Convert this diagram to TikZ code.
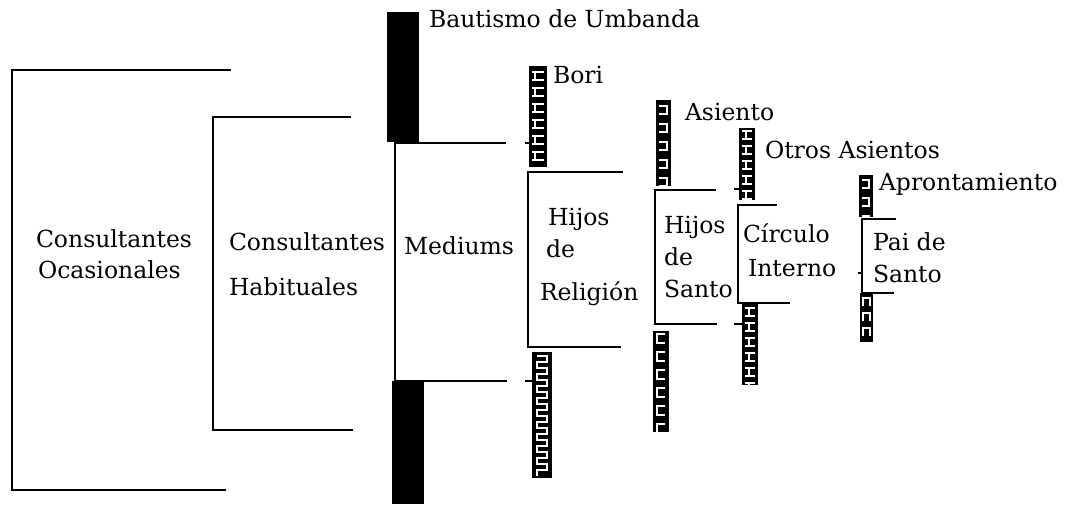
\documentclass[tikz,border=0pt]{standalone}
\usepackage{fontspec}
\setmainfont{DejaVu Serif}
\begin{document}
\begin{tikzpicture}[x=1pt,y=-1pt,line width=2pt,
        bracket/.style={line width=2pt,line cap=rect},
        tick/.style={line width=1.5pt},
        glyph/.style={white,line width=1.6pt}]
    \useasboundingbox (0,0) rectangle (1066,504);

    % labels
    \begin{scope}[every node/.style={anchor=base west,inner sep=0pt,
                    font=\fontsize{23.5}{28}\selectfont}]
        \node (co1) at (35,247) {Consultantes};
        \node (oca) at (37,278) {Ocasionales};
        \node (co2) at (228,250) {Consultantes};
        \node (hab) at (228,295) {Habituales};
        \node (med) at (403,254) {Mediums};
        \node (bau) at (428,27) {Bautismo de Umbanda};
        \node (hr1) at (547,225) {Hijos};
        \node (hr2) at (545,257) {de};
        \node (hr3) at (539,300) {Religión};
        \node (bor) at (552,83) {Bori};
        \node (hs1) at (663,233) {Hijos};
        \node (hs2) at (663,265) {de};
        \node (hs3) at (663,297) {Santo};
        \node (asi) at (684,120) {Asiento};
        \node (ci1) at (742,242) {Círculo};
        \node (ci2) at (747,276) {Interno};
        \node (otr) at (764,158) {Otros Asientos};
        \node (pa1) at (872,250) {Pai de};
        \node (pa2) at (872,282) {Santo};
        \node (apr) at (878,190) {Aprontamiento};
    \end{scope}

    % brackets
    \draw[bracket] (230,70) -- (12,70) -- (12,490) -- (225,490);
    \draw[bracket] (350,117) -- (213,117) -- (213,430) -- (352,430);
    \draw[bracket] (505,143) -- (395,143) -- (395,381) -- (506,381);
    \draw[bracket] (622,172) -- (528,172) -- (528,347) -- (620,347);
    \draw[bracket] (715,190) -- (655,190) -- (655,324) -- (716,324);
    \draw[bracket] (776,205) -- (738,205) -- (738,303) -- (789,303);
    \draw[bracket] (895,219) -- (862,219) -- (862,293) -- (893,293);

    % short ticks
    \draw[tick] (525,143) -- (530,143);
    \draw[tick] (525,381) -- (532,381);
    \draw[tick] (734,189) -- (739,189);
    \draw[tick] (734,324) -- (742,324);
    \draw[tick] (858,273) -- (862,273);

    % solid bars
    \fill (387,12) rectangle (419,142);
    \fill (392,381) rectangle (424,504);

    % Bori
    \begin{scope}
        \clip (529,66) rectangle (547,167);
        \fill (529,66) rectangle (547,167);
        \foreach \y in {72,88,...,168}
            \draw[glyph] (532,\y) -- (544,\y) (535,\y) -- (535,\y+8) (532,\y+8) -- (544,\y+8);
    \end{scope}
    % Religion bottom
    \begin{scope}
        \clip (532,352) rectangle (552,478);
        \fill (532,352) rectangle (552,478);
        \draw[glyph] (537,356) \foreach \y in {356,368,...,464}
            { -- (547,\y) -- (547,\y+6) -- (537,\y+6) -- (537,\y+12) };
    \end{scope}
    % Asiento
    \begin{scope}
        \clip (656,100) rectangle (671,186);
        \fill (656,100) rectangle (671,186);
        \foreach \y in {106,124,...,184}
            \draw[glyph] (659,\y) -- (667,\y) -- (667,\y+8) -- (659,\y+8);
    \end{scope}
    \begin{scope}
        \clip (653,331) rectangle (669,432);
        \fill (653,331) rectangle (669,432);
        \foreach \y in {334,352,...,428}
            \draw[glyph] (665,\y) -- (657,\y) -- (657,\y+9) -- (665,\y+9);
    \end{scope}
    % Otros Asientos
    \begin{scope}
        \clip (739,128) rectangle (755,200);
        \fill (739,128) rectangle (755,200);
        \foreach \y in {131,146,...,199}
            \draw[glyph] (742,\y) -- (752,\y) (746,\y) -- (746,\y+8) (742,\y+8) -- (752,\y+8);
    \end{scope}
    \begin{scope}
        \clip (742,303) rectangle (758,385);
        \fill (742,303) rectangle (758,385);
        \foreach \y in {308,323,...,384}
            \draw[glyph] (745,\y) -- (755,\y) (749,\y) -- (749,\y+8) (745,\y+8) -- (755,\y+8);
    \end{scope}
    % Aprontamiento
    \begin{scope}
        \clip (859,175) rectangle (873,217);
        \fill (859,175) rectangle (873,217);
        \foreach \y in {180,198,...,216}
            \draw[glyph] (862,\y) -- (869,\y) -- (869,\y+8) -- (862,\y+8);
    \end{scope}
    \begin{scope}
        \clip (860,293) rectangle (873,342);
        \fill (860,293) rectangle (873,342);
        \foreach \y in {298,313,...,340}
            \draw[glyph] (863,\y+8) -- (863,\y) -- (870,\y) -- (870,\y+8);
    \end{scope}
\end{tikzpicture}
\end{document}
